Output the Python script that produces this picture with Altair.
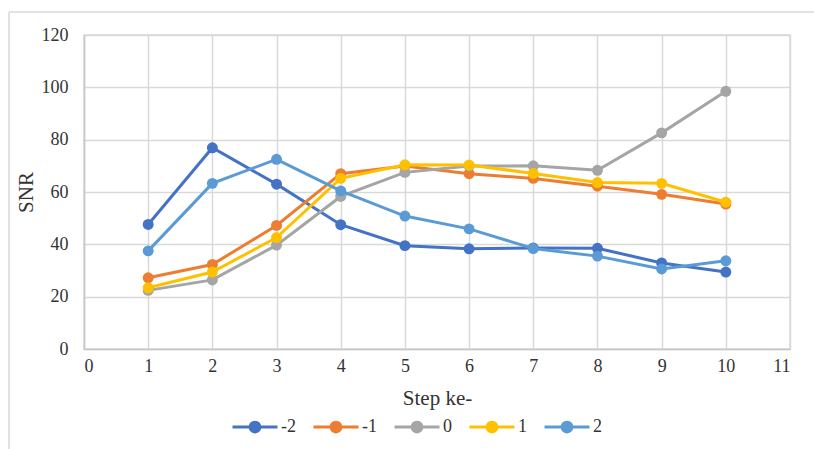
import altair as alt
import pandas as pd

# SNR per step for each offset series
steps = [1, 2, 3, 4, 5, 6, 7, 8, 9, 10]
series_names = ["-2", "-1", "0", "1", "2"]
snr_m2 = [47.6, 76.9, 63.0, 47.5, 39.5, 38.3, 38.6, 38.5, 32.9, 29.4]
snr_m1 = [27.2, 32.3, 47.2, 67.0, 69.9, 67.0, 65.2, 62.2, 59.1, 55.4]
snr_0 = [22.4, 26.4, 39.7, 58.3, 67.5, 69.9, 70.0, 68.3, 82.6, 98.5]
snr_p1 = [23.4, 29.4, 42.6, 65.2, 70.4, 70.3, 67.1, 63.6, 63.3, 56.1]
snr_p2 = [37.5, 63.3, 72.5, 60.4, 50.8, 45.9, 38.4, 35.5, 30.6, 33.7]
colors = ["#4472C4", "#ED7D31", "#A5A5A5", "#FFC000", "#5B9BD5"]

values = [snr_m2, snr_m1, snr_0, snr_p1, snr_p2]
rows = []
for name, vals in zip(series_names, values):
    for s, v in zip(steps, vals):
        rows.append({"step": s, "snr": v, "series": name})
df = pd.DataFrame(rows)

FONT = "Liberation Serif"
TEXT = "#333333"

# line with a dot in the middle, used as legend glyph
legend_glyph = ("M-3,-0.2H3V0.2H-3Z "
                "M-0.85,0A0.85,0.85 0 1,1 0.85,0A0.85,0.85 0 1,1 -0.85,0Z")

color = alt.Color(
    "series:N",
    scale=alt.Scale(domain=series_names, range=colors),
    sort=series_names,
    legend=alt.Legend(
        title=None, orient="none", direction="horizontal",
        legendX=162, legendY=383, padding=0,
        symbolType=legend_glyph, symbolSize=225, symbolStrokeWidth=0,
        labelFont=FONT, labelFontSize=18, labelColor=TEXT,
        labelOffset=17, columnPadding=17,
    ),
)

x_enc = alt.X(
    "step:Q",
    scale=alt.Scale(domain=[0, 11], nice=False),
    axis=alt.Axis(values=list(range(0, 12)), title="Step ke-",
                  labelPadding=8, titlePadding=12, tickSize=0),
)
y_enc = alt.Y(
    "snr:Q",
    scale=alt.Scale(domain=[0, 120], nice=False),
    axis=alt.Axis(values=list(range(0, 121, 20)), title="SNR",
                  labelPadding=16, titlePadding=5, tickSize=0),
)

layers = []
for name in series_names:
    sub = alt.Chart(df).transform_filter(alt.datum.series == name)
    layers.append(sub.mark_line(strokeWidth=3).encode(x=x_enc, y=y_enc, color=color))
    layers.append(sub.mark_circle(size=120, opacity=1).encode(x=x_enc, y=y_enc, color=color))

# outer chart frame
frame_df = pd.DataFrame({"k": [0]})
frame_top = alt.Chart(frame_df).mark_rule(color="#d9d9d9", strokeWidth=1.5).encode(
    x=alt.value(-75), x2=alt.value(800), y=alt.value(-23))
frame_left = alt.Chart(frame_df).mark_rule(color="#d9d9d9", strokeWidth=1.5).encode(
    x=alt.value(-75), y=alt.value(-23), y2=alt.value(500))

chart = alt.layer(frame_top, frame_left, *layers).properties(
    width=706, height=314,
    autosize=alt.AutoSizeParams(type="none"),
    padding={"left": 84, "top": 35, "right": 24, "bottom": 100},
).configure_view(
    stroke="#d9d9d9", strokeWidth=1.5,
).configure_axis(
    grid=True, gridColor="#d9d9d9", gridWidth=1.5,
    domainColor="#c8c8c8", domainWidth=1.5,
    labelFont=FONT, labelFontSize=18, labelColor=TEXT,
    titleFont=FONT, titleFontSize=21, titleFontWeight="normal", titleColor=TEXT,
)

chart.save("out.html", embed_options={"renderer": "svg", "actions": False})
